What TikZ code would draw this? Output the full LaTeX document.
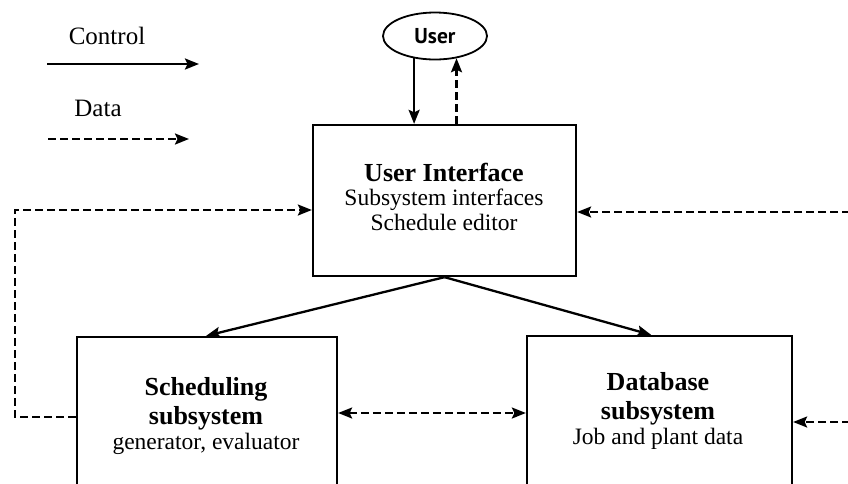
\documentclass[tikz,border=0pt]{standalone}
\usepackage{fontspec}
\setmainfont{Liberation Serif}
\newfontfamily\userfont{PT Sans}
\usetikzlibrary{arrows.meta,shapes.geometric,calc}

\tikzset{
  tip/.tip={Stealth[length=14pt,width=11pt,inset=2.5pt]},
  box/.style={draw, line width=2.3pt, inner sep=0pt},
  boxtext/.style={align=center, inner sep=0pt,
    font=\fontsize{23.5}{25}\selectfont},
  ctrl/.style={line width=2.3pt, -tip},
  dataflow/.style={line width=2.2pt, dash pattern=on 8pt off 4pt},
  legendtext/.style={font=\fontsize{25}{28}\selectfont, inner sep=0pt}
}
\newcommand{\hd}[1]{{\bfseries\fontsize{26}{28}\selectfont #1}}

\begin{document}
\begin{tikzpicture}[x=1pt,y=-1pt]
  \useasboundingbox (0,0) rectangle (848,483);
  \clip (0,0) rectangle (848,483);

  % legend
  \node[legendtext] (lctrl) at (107,36) {Control};
  \coordinate (c1) at (47,64);
  \coordinate (c2) at (199,64);
  \draw[ctrl] (c1) -- (c2);
  \node[legendtext] (ldata) at (98,108) {Data};
  \coordinate (d1) at (48,139);
  \coordinate (d2) at (189,139);
  \draw[dataflow,-tip] (d1) -- (d2);

  % user
  \node[draw, ellipse, line width=1.8pt, minimum width=104pt, minimum height=47pt,
        inner sep=0pt, font=\userfont\bfseries\fontsize{21.5}{23}\selectfont]
        (user) at (435,36) {User};

  % main blocks
  \node[box, minimum width=263pt, minimum height=151pt] (ui) at (444.5,200.5) {};
  \node[boxtext] (uitext) at (444,197)
    {\hd{User Interface}\\[-1pt] Subsystem interfaces\\ Schedule editor};
  \node[box, minimum width=260pt, minimum height=156pt] (sched) at (207,415) {};
  \node[boxtext] (schedtext) at (206,416)
    {\hd{Scheduling}\\[4pt] \hd{subsystem}\\ generator, evaluator};
  \node[box, minimum width=265pt, minimum height=150pt] (db) at (659.5,411) {};
  \node[boxtext] (dbtext) at (658,411)
    {\hd{Database}\\[4pt] \hd{subsystem}\\ Job and plant data};

  % control flow
  \draw[ctrl] (user.227) -- (user.227 |- ui.north);
  \draw[ctrl] (ui.south) -- ([xshift=-132pt]sched.north east);
  \draw[ctrl] (ui.south) -- ([xshift=-142pt]db.north east);

  % data flow
  \draw[dataflow,-tip] (ui.north -| user.314) -- (user.314);
  \coordinate (bend1) at (15,417);
  \coordinate (bend2) at (15,210);
  \draw[dataflow,-tip] ([yshift=-2pt]sched.west) -- (bend1) -- (bend2)
        -- (bend2 -| ui.west);
  \coordinate (rt1) at (850,212);
  \draw[dataflow,-tip] (rt1) -- (rt1 -| ui.east);
  \coordinate (rt2) at (850,422);
  \draw[dataflow,-tip] (rt2) -- (rt2 -| db.east);
  \draw[dataflow,tip-tip] ([yshift=2pt]sched.east) -- ([yshift=2pt]sched.east -| db.west);
\end{tikzpicture}
\end{document}
